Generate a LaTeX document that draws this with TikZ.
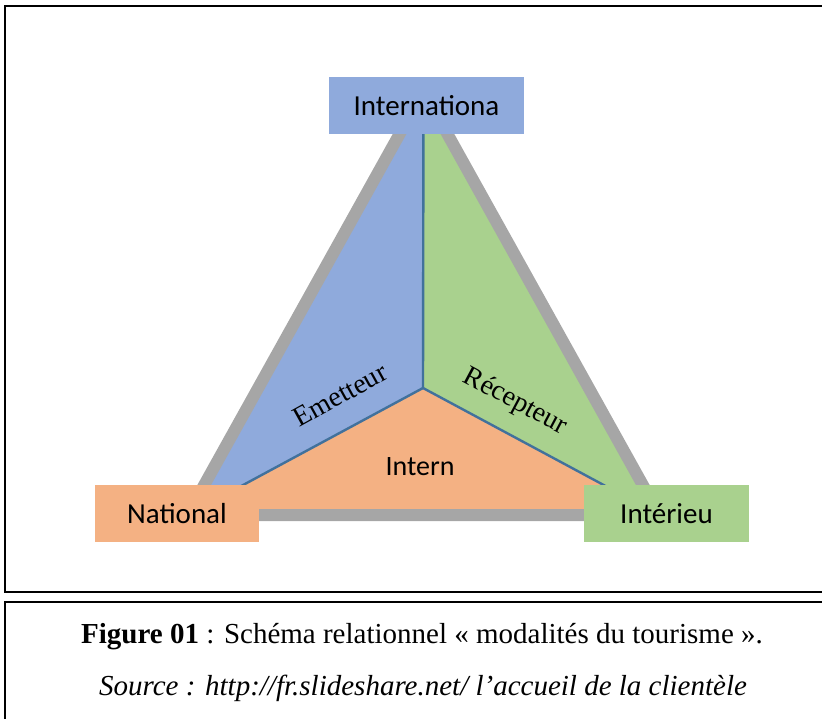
\documentclass[tikz,border=0pt]{standalone}
\usepackage{fontspec}
\setmainfont{Liberation Serif}
\newfontfamily\calibri{Carlito}
\usepackage{tikz}
\definecolor{bleu}{RGB}{143, 170, 220}
\definecolor{vert}{RGB}{169, 209, 142}
\definecolor{saumon}{RGB}{244, 177, 131}
\definecolor{gris}{RGB}{166, 166, 166}
\definecolor{trait}{RGB}{65, 113, 156}
\usetikzlibrary{positioning}
\tikzset{boite/.style={rectangle, inner sep=0pt, minimum height=57pt, font=\calibri\fontsize{29pt}{34pt}\selectfont}}

\begin{document}
\begin{tikzpicture}[every node/.style={inner sep=0pt}]
\clip (0pt, 0pt) rectangle (822pt, -719pt);
% cadres
\draw [line width=1.6pt, color=black] (5pt, -6pt) rectangle (830pt, -592pt);
\draw [line width=1.6pt, color=black] (5pt, -602pt) rectangle (830pt, -730pt);
% triangle
\coordinate (a) at (423.5pt, -91pt);
\coordinate (b) at (187.5pt, -515pt);
\coordinate (c) at (659.5pt, -515pt);
\coordinate (o) at (423pt, -388pt);
\fill [bleu] (a) -- (o) -- (b) -- cycle;
\fill [vert] (a) -- (o) -- (c) -- cycle;
\fill [saumon] (b) -- (o) -- (c) -- cycle;
\draw [line width=2.4pt, color=trait] (o) to (a);
\draw [line width=2.4pt, color=trait] (o) to (b);
\draw [line width=2.4pt, color=trait] (o) to (c);
\draw [line width=12pt, color=gris] (a) -- (b) -- (c) -- cycle;
\node (emet) [rotate=29, font=\fontsize{28pt}{32pt}\selectfont] at (340pt, -395pt) {Emetteur};
\node (recep) [rotate=-28, font=\fontsize{28pt}{32pt}\selectfont] at (515pt, -402pt) {Récepteur};
\node (intern) [font=\calibri\fontsize{28pt}{33pt}\selectfont] at (420pt, -467pt) {Intern};
% boites
\node (inter) [boite, minimum width=195pt, fill=bleu] at (426.5pt, -106pt) {Internationa};
\node (nat) [boite, minimum width=164pt, fill=saumon] at (177pt, -513.5pt) {National};
\node (inte) [boite, minimum width=165pt, fill=vert] at (666.5pt, -513.5pt) {Intérieu};
% legende
\node (legende) [font=\fontsize{29pt}{34pt}\selectfont] at (422pt, -637pt) {\textbf{Figure 01} : Schéma relationnel « modalités du tourisme ».};
\node (source) [font=\fontsize{29pt}{34pt}\selectfont\itshape] at (423pt, -688pt) {Source : http://fr.slideshare.net/ l’accueil de la clientèle};
\end{tikzpicture}
\end{document}
